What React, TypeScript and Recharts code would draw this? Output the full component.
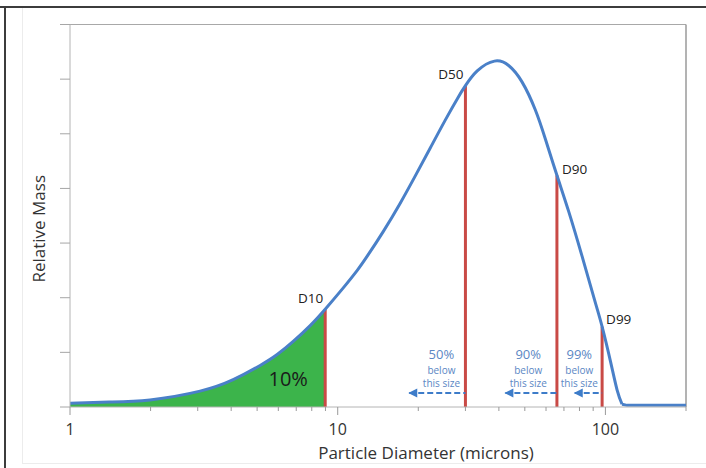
import React from 'react';
import { ComposedChart, Line, Area, XAxis, YAxis, ReferenceLine, ReferenceDot } from 'recharts';

// Particle diameters (microns) and relative mass
const diameters = [1, 1.4, 1.99, 3.06, 4.07, 5.13, 5.94, 6.82, 7.89, 8.98, 10.49, 11.83, 12.89, 14.79, 17.12, 19.49, 22.17, 25.22, 28.2, 30.0, 33.2, 38.5, 43.5, 48.8, 54.7, 59.7, 65.9, 72.9, 81.8, 91.7, 97.2, 104.4, 110.6, 115.4, 120.5, 200];
const relativeMass = [0.07, 0.09, 0.13, 0.29, 0.5, 0.76, 0.96, 1.2, 1.49, 1.79, 2.18, 2.5, 2.76, 3.21, 3.73, 4.23, 4.74, 5.25, 5.67, 5.88, 6.15, 6.33, 6.25, 5.95, 5.44, 4.9, 4.24, 3.58, 2.76, 1.91, 1.47, 0.84, 0.31, 0.05, 0.03, 0.03];
const shadedUpTo = 8.98;
const tailFrom = 115.4;

const percentileNames = ['D10', 'D50', 'D90', 'D99'];
const percentileSizes = [8.98, 30.0, 65.9, 97.2];
const percentileHeights = [1.79, 5.88, 4.24, 1.47];

const belowPercents = ['50%', '90%', '99%'];
const belowTextAt = [24.4, 51.5, 79.9];
const arrowTips = [18.5, 42.3, 76.8];
const arrowEnds = [30.0, 65.9, 97.2];
const arrowLevel = 0.256;

const shadedLabel = '10%';
const shadedLabelAt = { x: 6.53, y: 0.53 };

const majorTicks = [1, 10, 100];
const xTicks = [1, 2, 3, 4, 5, 6, 7, 8, 9, 10, 20, 30, 40, 50, 60, 70, 80, 90, 100, 200];
const yTicks = [0, 1, 2, 3, 4, 5, 6, 7];

const data = diameters.map((d, i) => ({
  d,
  mass: d <= tailFrom ? relativeMass[i] : null,
  tail: d >= tailFrom ? relativeMass[i] : null,
  shaded: d <= shadedUpTo ? relativeMass[i] : null,
}));

const FONT = '"Open Sans", sans-serif';
const BLUE = '#4a80c8';
const RED = '#c94a46';
const GREEN = '#3cb44b';
const NOTE = '#5b87c4';
const ARROW = '#3d7cc9';

// label offsets (px) relative to the top of each red line
const dLabelLayout = [
  { dx: -2, dy: -6.5, anchor: 'end' },
  { dx: -2, dy: -6.5, anchor: 'end' },
  { dx: 5, dy: -1.5, anchor: 'start' },
  { dx: 4, dy: -2.5, anchor: 'start' },
];

const XTick = (props: any) => {
  const { x, y, payload } = props;
  const v = payload.value;
  const major = majorTicks.includes(v);
  return (
    <g>
      <line x1={x} x2={x} y1={y} y2={y + (major ? 8 : 4)} stroke="#9a9a9a" strokeWidth={1} />
      {major && (
        <text x={x} y={y + 28} textAnchor="middle" fontSize={16} fill="#333" fontFamily={FONT}>
          {v}
        </text>
      )}
    </g>
  );
};

export default function App() {
  return (
    <div style={{ position: 'absolute', left: 0, top: 0, width: 706, height: 468, background: '#fff' }}>
      <div style={{ position: 'absolute', left: 0, top: 6, width: 706, height: 0, borderTop: '2px solid #3c3c3c' }} />
      <div style={{ position: 'absolute', left: 4, top: 6, width: 0, height: 462, borderLeft: '2px solid #3c3c3c' }} />
      <div style={{ position: 'absolute', left: 22, top: 8, width: 0, height: 455, borderLeft: '1px solid #ececec' }} />
      <div style={{ position: 'absolute', left: 22, top: 463, width: 684, height: 0, borderTop: '1px solid #ececec' }} />
      <div style={{ position: 'absolute', left: 0, top: 0 }}>
        <ComposedChart width={706} height={468} data={data} margin={{ top: 24.5, right: 20, bottom: 21, left: 10 }}>
          <XAxis
            dataKey="d"
            type="number"
            scale="log"
            domain={[1, 200]}
            ticks={xTicks}
            interval={0}
            tickLine={false}
            tickSize={0}
            tickMargin={0}
            tick={<XTick />}
            height={40}
            axisLine={{ stroke: '#b4b4b4', strokeWidth: 1 }}
            allowDataOverflow
            label={{
              content: (p: any) => {
                const vb = p.viewBox;
                return (
                  <text x={vb.x + vb.width / 2 + 48} y={vb.y + 45} textAnchor="middle" dominantBaseline="central" fontSize={17} fill="#333" fontFamily={FONT}>
                    Particle Diameter (microns)
                  </text>
                );
              },
            }}
          />
          <YAxis
            type="number"
            domain={[0, 7]}
            ticks={yTicks}
            interval={0}
            width={60}
            tickSize={10}
            tickFormatter={() => ''}
            tickLine={{ stroke: '#a6a6a6' }}
            axisLine={{ stroke: '#b4b4b4', strokeWidth: 1 }}
            label={{
              content: (p: any) => {
                const vb = p.viewBox;
                const cx = vb.x + 28;
                const cy = vb.y + vb.height / 2 + 13;
                return (
                  <text x={cx} y={cy} transform={`rotate(-90 ${cx} ${cy})`} textAnchor="middle" dominantBaseline="central" fontSize={17} fill="#333" fontFamily={FONT}>
                    Relative Mass
                  </text>
                );
              },
            }}
          />
          <ReferenceLine y={7} stroke="#a8a8a8" strokeWidth={1} />
          <ReferenceLine x={200} stroke="#9a9a9a" strokeWidth={1.5} />
          <Area dataKey="shaded" type="natural" fill={GREEN} fillOpacity={1} stroke="none" isAnimationActive={false} dot={false} activeDot={false} />
          {percentileSizes.map((s, i) => (
            <ReferenceLine
              key={percentileNames[i]}
              segment={[{ x: s, y: 0 }, { x: s, y: percentileHeights[i] }]}
              stroke={RED}
              strokeWidth={3}
            />
          ))}
          {arrowTips.map((t, i) => (
            <ReferenceLine
              key={'arrow' + i}
              segment={[{ x: t, y: arrowLevel }, { x: arrowEnds[i], y: arrowLevel }]}
              stroke={ARROW}
              strokeWidth={2}
              strokeDasharray="6 3"
            />
          ))}
          <Line dataKey="mass" type="natural" stroke={BLUE} strokeWidth={3} dot={false} activeDot={false} isAnimationActive={false} />
          <Line dataKey="tail" type="linear" stroke={BLUE} strokeWidth={3} dot={false} activeDot={false} isAnimationActive={false} />
          {arrowTips.map((t, i) => (
            <ReferenceDot
              key={'head' + i}
              x={t}
              y={arrowLevel}
              r={4}
              shape={(p: any) => (
                <polygon points={`${p.cx - 1},${p.cy} ${p.cx + 8},${p.cy - 4.5} ${p.cx + 8},${p.cy + 4.5}`} fill={ARROW} />
              )}
            />
          ))}
          {belowTextAt.map((bx, i) => (
            <ReferenceDot
              key={'note' + i}
              x={bx}
              y={arrowLevel}
              r={1}
              shape={(p: any) => (
                <g fontFamily={FONT} fill={NOTE} textAnchor="middle">
                  <text x={p.cx} y={p.cy - 34} fontSize={13}>{belowPercents[i]}</text>
                  <text x={p.cx} y={p.cy - 19} fontSize={10}>below</text>
                  <text x={p.cx} y={p.cy - 6.5} fontSize={10}>this size</text>
                </g>
              )}
            />
          ))}
          {percentileSizes.map((s, i) => (
            <ReferenceDot
              key={'lbl' + i}
              x={s}
              y={percentileHeights[i]}
              r={1}
              shape={(p: any) => (
                <text
                  x={p.cx + dLabelLayout[i].dx}
                  y={p.cy + dLabelLayout[i].dy}
                  textAnchor={dLabelLayout[i].anchor as any}
                  fontSize={13.5}
                  fill="#222"
                  fontFamily={FONT}
                >
                  {percentileNames[i]}
                </text>
              )}
            />
          ))}
          <ReferenceDot
            x={shadedLabelAt.x}
            y={shadedLabelAt.y}
            r={1}
            shape={(p: any) => (
              <text x={p.cx} y={p.cy} textAnchor="middle" dominantBaseline="central" fontSize={20} fill="#1a1a1a" fontFamily={FONT}>
                {shadedLabel}
              </text>
            )}
          />
        </ComposedChart>
      </div>
    </div>
  );
}
